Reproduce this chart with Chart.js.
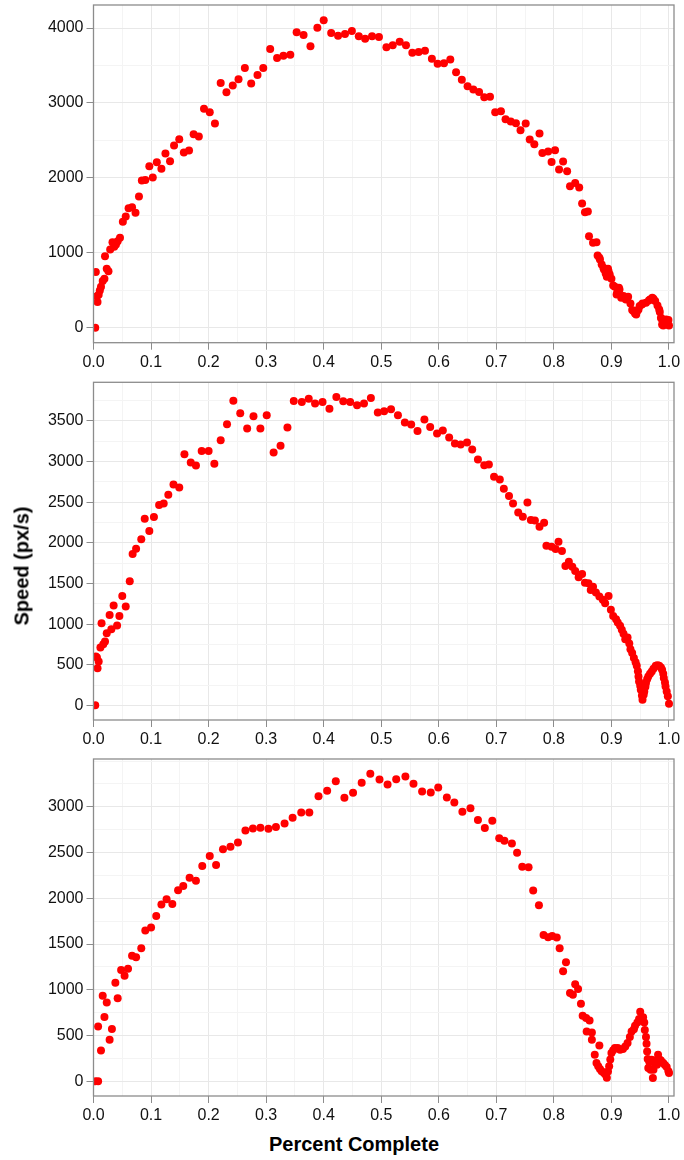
<!DOCTYPE html>
<html lang="en">
<head>
<meta charset="UTF-8">
<title>Speed vs Percent Complete</title>
<script src="https://cdn.jsdelivr.net/npm/chart.js@4"></script>
<style>
  * { margin: 0; padding: 0; box-sizing: border-box; }
  body {
    width: 684px; height: 1160px; background: #fff;
    position: relative; overflow: hidden;
    font-family: 'Liberation Sans', Arial, sans-serif;
  }
  .panel { position: absolute; left: 0; }
  .y-title {
    position: absolute; left: 22px; top: 566px;
    transform: translate(-50%, -50%) rotate(-90deg);
    font-size: 20px; font-weight: bold; white-space: nowrap; color: #000;
  }
  .x-title {
    position: absolute; left: 354px; top: 1144px;
    transform: translate(-50%, -50%);
    font-size: 20px; font-weight: bold; white-space: nowrap; color: #000;
  }
</style>
</head>
<body>
  <canvas class="panel" id="run1" width="684" height="375" style="top:0px"></canvas>
  <canvas class="panel" id="run2" width="684" height="375" style="top:377px"></canvas>
  <canvas class="panel" id="run3" width="684" height="375" style="top:754px"></canvas>
  <div class="y-title">Speed (px/s)</div>
  <div class="x-title">Percent Complete</div>

<script>
// shared x axis: grid every 0.05, labels every 0.1
const xTicks = [0, 0.05, 0.1, 0.15, 0.2, 0.25, 0.3, 0.35, 0.4, 0.45, 0.5,
                0.55, 0.6, 0.65, 0.7, 0.75, 0.8, 0.85, 0.9, 0.95, 1.0];
const xTickLabels = ['0.0', '', '0.1', '', '0.2', '', '0.3', '', '0.4', '', '0.5',
                     '', '0.6', '', '0.7', '', '0.8', '', '0.9', '', '1.0'];

// run 1
const pct1 = [0.003, 0.004, 0.006, 0.007, 0.009, 0.011, 0.013, 0.016, 0.019, 0.020, 0.023, 0.026,
  0.029, 0.033, 0.036, 0.039, 0.042, 0.046, 0.051, 0.056, 0.061, 0.067, 0.073, 0.079, 0.084,
  0.090, 0.097, 0.103, 0.110, 0.118, 0.125, 0.133, 0.140, 0.149, 0.157, 0.166, 0.174, 0.183,
  0.192, 0.202, 0.211, 0.221, 0.231, 0.242, 0.252, 0.263, 0.274, 0.285, 0.295, 0.307, 0.319,
  0.330, 0.342, 0.353, 0.365, 0.377, 0.389, 0.400, 0.413, 0.425, 0.437, 0.449, 0.461, 0.472,
  0.484, 0.496, 0.509, 0.520, 0.532, 0.543, 0.554, 0.565, 0.576, 0.588, 0.598, 0.609, 0.620,
  0.630, 0.640, 0.650, 0.660, 0.670, 0.679, 0.689, 0.698, 0.708, 0.716, 0.725, 0.734, 0.742,
  0.751, 0.758, 0.766, 0.775, 0.780, 0.790, 0.796, 0.802, 0.809, 0.816, 0.823, 0.828, 0.837,
  0.844, 0.849, 0.854, 0.859, 0.861, 0.868, 0.874, 0.876, 0.879, 0.880, 0.883, 0.886, 0.887,
  0.890, 0.891, 0.892, 0.894, 0.895, 0.897, 0.900, 0.903, 0.906, 0.909, 0.910, 0.913, 0.914,
  0.917, 0.918, 0.921, 0.924, 0.925, 0.929, 0.933, 0.936, 0.938, 0.941, 0.943, 0.945, 0.947,
  0.949, 0.953, 0.954, 0.960, 0.965, 0.967, 0.971, 0.973, 0.976, 0.980, 0.983, 0.984, 0.986,
  0.987, 0.988, 0.990, 0.994, 0.995, 0.997, 0.999, 1.000];
const speed1 = [0, 742, 421, 342, 440, 497, 547, 622, 653, 955, 786, 755,
  1044, 1141, 1080, 1111, 1155, 1200, 1413, 1484, 1596, 1609, 1533, 1751, 1964,
  1973, 2156, 2004, 2209, 2120, 2324, 2222, 2431, 2516, 2338, 2364, 2582, 2551,
  2924, 2876, 2724, 3267, 3142, 3231, 3316, 3467, 3258, 3373, 3467, 3720, 3600,
  3631, 3644, 3942, 3907, 3756, 4004, 4102, 3933, 3898, 3920, 3960, 3889, 3858,
  3889, 3880, 3742, 3769, 3818, 3769, 3671, 3680, 3698, 3591, 3524, 3529, 3578,
  3409, 3311, 3222, 3178, 3147, 3076, 3084, 2876, 2889, 2782, 2751, 2729, 2636,
  2724, 2511, 2449, 2591, 2333, 2351, 2213, 2369, 2111, 2218, 2089, 1889, 1933,
  1871, 1658, 1542, 1551, 1222, 1133, 1142, 964, 933, 911, 844, 800, 778,
  724, 777, 680, 787, 755, 711, 653, 564, 547, 444, 467, 533, 511,
  400, 421, 422, 400, 378, 413, 324, 236, 222, 191, 177, 222, 244,
  289, 311, 324, 333, 364, 377, 400, 386, 356, 298, 244, 209, 133,
  120, 44, 31, 89, 111, 44, 102, 31];

// run 2
const pct2 = [0.003, 0.004, 0.006, 0.007, 0.009, 0.012, 0.014, 0.017, 0.020, 0.023, 0.028, 0.031,
  0.035, 0.041, 0.045, 0.050, 0.056, 0.063, 0.068, 0.074, 0.083, 0.089, 0.097, 0.105, 0.114,
  0.122, 0.130, 0.139, 0.149, 0.158, 0.169, 0.178, 0.188, 0.200, 0.210, 0.221, 0.232, 0.243,
  0.255, 0.267, 0.278, 0.290, 0.301, 0.313, 0.325, 0.337, 0.348, 0.362, 0.374, 0.385, 0.398,
  0.410, 0.422, 0.434, 0.446, 0.458, 0.470, 0.482, 0.494, 0.505, 0.517, 0.529, 0.541, 0.552,
  0.563, 0.575, 0.585, 0.597, 0.607, 0.618, 0.628, 0.638, 0.649, 0.658, 0.668, 0.679, 0.687,
  0.696, 0.706, 0.713, 0.722, 0.729, 0.738, 0.746, 0.754, 0.760, 0.767, 0.775, 0.783, 0.787,
  0.796, 0.803, 0.808, 0.814, 0.820, 0.826, 0.832, 0.837, 0.843, 0.849, 0.854, 0.860, 0.864,
  0.868, 0.873, 0.879, 0.885, 0.889, 0.895, 0.899, 0.903, 0.908, 0.911, 0.915, 0.918, 0.921,
  0.924, 0.928, 0.931, 0.933, 0.936, 0.939, 0.942, 0.944, 0.946, 0.947, 0.948, 0.950, 0.951,
  0.953, 0.954, 0.956, 0.957, 0.959, 0.960, 0.962, 0.964, 0.967, 0.970, 0.973, 0.977, 0.980,
  0.983, 0.986, 0.988, 0.990, 0.991, 0.993, 0.994, 0.996, 0.998, 1.000];
const speed2 = [0, 602, 590, 458, 540, 712, 1011, 753, 786, 888, 1113, 937,
  1228, 982, 1101, 1347, 1216, 1527, 1862, 1928, 2043, 2296, 2145, 2317, 2464,
  2485, 2591, 2718, 2681, 3091, 2988, 2951, 3131, 3131, 2972, 3262, 3459, 3749,
  3594, 3406, 3557, 3406, 3569, 3111, 3193, 3418, 3745, 3733, 3774, 3713, 3733,
  3651, 3794, 3741, 3733, 3692, 3713, 3782, 3602, 3618, 3643, 3569, 3479, 3455,
  3377, 3516, 3426, 3344, 3381, 3295, 3221, 3209, 3234, 3148, 3025, 2955, 2964,
  2812, 2779, 2665, 2575, 2485, 2374, 2321, 2497, 2280, 2276, 2198, 2247, 1965,
  1953, 1924, 2014, 1899, 1715, 1768, 1707, 1654, 1576, 1617, 1510, 1502, 1420,
  1461, 1388, 1338, 1298, 1257, 1347, 1175, 1101, 1061, 1020, 979, 930, 880,
  815, 835, 760, 692, 643, 582, 532, 487, 420, 356, 295, 240, 193,
  120, 70, 130, 172, 230, 275, 320, 356, 390, 418, 450, 487, 495,
  487, 465, 438, 390, 336, 280, 233, 170, 111, 21];

// run 3
const pct3 = [0.003, 0.008, 0.008, 0.013, 0.016, 0.019, 0.023, 0.028, 0.032, 0.038, 0.042, 0.048,
  0.054, 0.060, 0.067, 0.074, 0.083, 0.090, 0.100, 0.109, 0.118, 0.127, 0.137, 0.147, 0.156,
  0.167, 0.178, 0.189, 0.202, 0.213, 0.225, 0.238, 0.251, 0.264, 0.277, 0.290, 0.304, 0.317,
  0.332, 0.346, 0.361, 0.375, 0.391, 0.406, 0.421, 0.436, 0.451, 0.466, 0.481, 0.497, 0.511,
  0.526, 0.542, 0.556, 0.571, 0.586, 0.599, 0.614, 0.627, 0.641, 0.655, 0.668, 0.680, 0.693,
  0.705, 0.714, 0.727, 0.736, 0.745, 0.756, 0.764, 0.774, 0.782, 0.790, 0.797, 0.805, 0.810,
  0.816, 0.821, 0.828, 0.833, 0.837, 0.842, 0.847, 0.850, 0.856, 0.857, 0.862, 0.866, 0.866,
  0.871, 0.874, 0.877, 0.879, 0.880, 0.883, 0.887, 0.890, 0.892, 0.894, 0.896, 0.898, 0.900,
  0.903, 0.906, 0.911, 0.915, 0.920, 0.924, 0.928, 0.932, 0.935, 0.939, 0.941, 0.945, 0.948,
  0.950, 0.953, 0.955, 0.957, 0.958, 0.960, 0.961, 0.962, 0.963, 0.964, 0.966, 0.968, 0.970,
  0.972, 0.973, 0.975, 0.977, 0.979, 0.981, 0.984, 0.986, 0.988, 0.990, 0.993, 0.996, 0.999,
  1.000];
const speed3 = [0, 0, 600, 338, 935, 702, 862, 455, 571, 1076, 909, 1218,
  1153, 1229, 1371, 1356, 1455, 1647, 1680, 1807, 1931, 1989, 1938, 2087, 2135,
  2225, 2193, 2353, 2462, 2364, 2535, 2564, 2611, 2742, 2764, 2771, 2760, 2778,
  2818, 2880, 2938, 2938, 3116, 3175, 3280, 3098, 3153, 3262, 3360, 3298, 3244,
  3302, 3331, 3251, 3167, 3156, 3211, 3102, 3047, 2945, 2985, 2855, 2767, 2847,
  2655, 2629, 2600, 2498, 2345, 2338, 2084, 1924, 1600, 1575, 1589, 1571, 1455,
  1204, 1302, 964, 946, 1062, 1008, 848, 717, 692, 545, 665, 535, 455,
  291, 200, 164, 393, 135, 110, 90, 73, 40, 109, 164, 240, 310,
  340, 364, 364, 346, 353, 382, 418, 484, 545, 570, 608, 644, 680,
  760, 692, 700, 644, 560, 484, 411, 327, 244, 146, 210, 127, 237,
  36, 128, 200, 229, 182, 291, 237, 229, 207, 200, 180, 157, 110,
  91];

// y grids: minor lines halfway between labelled ones
const yTicks1 = [0, 500, 1000, 1500, 2000, 2500, 3000, 3500, 4000];
const yLabels1 = ['0', '', '1000', '', '2000', '', '3000', '', '4000'];
const yTicks2 = [0, 250, 500, 750, 1000, 1250, 1500, 1750, 2000, 2250, 2500, 2750, 3000, 3250, 3500, 3750];
const yLabels2 = ['0', '', '500', '', '1000', '', '1500', '', '2000', '', '2500', '', '3000', '', '3500', ''];
const yTicks3 = [0, 250, 500, 750, 1000, 1250, 1500, 1750, 2000, 2250, 2500, 2750, 3000, 3250, 3500];
const yLabels3 = ['0', '', '500', '', '1000', '', '1500', '', '2000', '', '2500', '', '3000', '', ''];

Chart.defaults.font.family = "'Liberation Sans', Arial, sans-serif";
Chart.defaults.font.size = 16;
Chart.defaults.color = '#111';

const MAJOR = '#e8e8e8';
const MINOR = '#f4f4f4';
const FRAME = '#8c8c8c';

// panel border on all four sides
const framePlugin = {
  id: 'frame',
  afterDatasetsDraw(chart) {
    const { ctx, chartArea: a } = chart;
    ctx.save();
    ctx.strokeStyle = FRAME;
    ctx.lineWidth = 1.3;
    ctx.strokeRect(a.left, a.top, a.right - a.left, a.bottom - a.top);
    ctx.restore();
  }
};

function scatterPanel(id, pct, speed, yTicks, yLabels, yMin, yMax, padTop, xAxisH) {
  new Chart(document.getElementById(id), {
    type: 'scatter',
    data: {
      datasets: [{
        data: pct.map((x, i) => ({ x: x, y: speed[i] })),
        backgroundColor: '#ff0000',
        borderWidth: 0,
        pointRadius: 4,
        pointHoverRadius: 4
      }]
    },
    options: {
      responsive: false,
      animation: false,
      layout: { padding: { top: padTop, right: 10, left: 0, bottom: 0 } },
      plugins: { legend: { display: false }, tooltip: { enabled: false } },
      scales: {
        x: {
          type: 'linear', min: 0, max: 1.0087,
          afterBuildTicks: s => { s.ticks = xTicks.map(v => ({ value: v })); },
          afterFit: s => { s.height = xAxisH; s.paddingLeft = 0; s.paddingRight = 0; },
          border: { display: false },
          grid: {
            color: c => xTickLabels[c.index] ? MAJOR : MINOR,
            tickColor: c => xTickLabels[c.index] ? FRAME : 'rgba(0,0,0,0)',
            tickLength: 7
          },
          ticks: { autoSkip: false, maxRotation: 0, padding: 3, callback: (v, i) => xTickLabels[i] }
        },
        y: {
          type: 'linear', min: yMin, max: yMax,
          afterBuildTicks: s => { s.ticks = yTicks.map(v => ({ value: v })); },
          afterFit: s => { s.width = 93.5; s.paddingTop = 0; s.paddingBottom = 0; },
          border: { display: false },
          grid: {
            color: c => yLabels[c.index] ? MAJOR : MINOR,
            tickColor: c => yLabels[c.index] ? FRAME : 'rgba(0,0,0,0)',
            tickLength: 7
          },
          ticks: { autoSkip: false, padding: 3, callback: (v, i) => yLabels[i] }
        }
      }
    },
    plugins: [framePlugin]
  });
}

scatterPanel('run1', pct1, speed1, yTicks1, yLabels1, -200, 4307, 5, 32.3);
scatterPanel('run2', pct2, speed2, yTicks2, yLabels2, -180, 3975, 5.3, 32);
scatterPanel('run3', pct3, speed3, yTicks3, yLabels3, -160, 3522, 5, 33);
</script>
</body>
</html>
